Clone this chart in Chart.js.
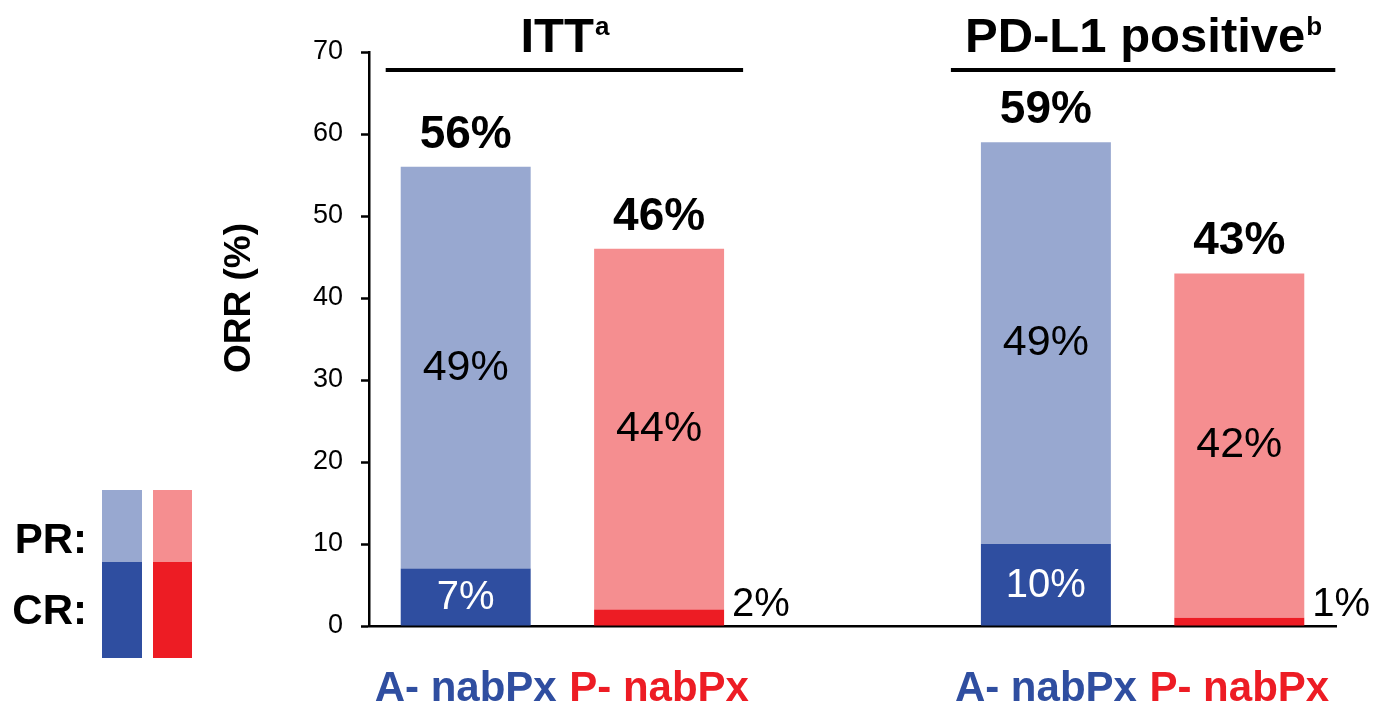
<!DOCTYPE html>
<html>
<head>
<meta charset="utf-8">
<script src="https://cdn.jsdelivr.net/npm/chart.js@4.4.1/dist/chart.umd.min.js"></script>
<style>
  html, body { margin: 0; padding: 0; background: #ffffff; }
  #wrap { width: 1373px; height: 706px; position: relative; }
</style>
</head>
<body>
<div id="wrap"><canvas id="c"></canvas></div>
<script>
// Arms on the x axis; the empty slot separates the two populations
const categories = ['A- nabPx', 'P- nabPx', '', 'A- nabPx', 'P- nabPx'];
// Complete response and partial response rates (%)
const crValues = [7, 2, null, 10, 1];
const prValues = [49, 44, null, 49, 42];
// Population headings spanning each pair of bars
const groupTitles = ['ITT', 'PD-L1 positive'];
const groupNotes = ['a', 'b'];
const groupIndices = [[0, 1], [3, 4]];
// Y axis ticks
const yTicks = [0, 10, 20, 30, 40, 50, 60, 70];

const FONT = '"Liberation Sans", Arial, Helvetica, sans-serif';
const BLUE_DARK = '#2f4ea0';
const BLUE_LIGHT = '#98a8d0';
const RED_DARK = '#ed1c24';
const RED_LIGHT = '#f58e90';
const armIsA = categories.map(c => c.startsWith('A'));

const crColors = armIsA.map(a => a ? BLUE_DARK : RED_DARK);
const prColors = armIsA.map(a => a ? BLUE_LIGHT : RED_LIGHT);
const labelColors = categories.map((c, i) => c === '' ? 'rgba(0,0,0,0)' : (armIsA[i] ? BLUE_DARK : RED_DARK));

// how far each heading rule reaches beyond its outer bar centres (px)
const rulePad = [[80, 84], [95, 96]];

const annotations = {
  id: 'annotations',
  afterDatasetsDraw(chart) {
    const ctx = chart.ctx;
    const x = chart.scales.x;
    const y = chart.scales.y;
    const crMeta = chart.getDatasetMeta(0);
    const prMeta = chart.getDatasetMeta(1);
    ctx.save();

    categories.forEach((c, i) => {
      if (crValues[i] == null) return;
      const crEl = crMeta.data[i];
      const prEl = prMeta.data[i];
      const cx = crEl.x;
      const half = crEl.width / 2;

      // total response above the bar
      const total = crValues[i] + prValues[i];
      ctx.fillStyle = '#000';
      ctx.font = 'bold 46px ' + FONT;
      ctx.textAlign = 'center';
      ctx.textBaseline = 'alphabetic';
      ctx.fillText(total + '%', cx, y.getPixelForValue(total) - 19);

      // partial response inside its segment
      ctx.font = '43px ' + FONT;
      ctx.textBaseline = 'middle';
      ctx.fillText(prValues[i] + '%', cx, (prEl.y + prEl.base) / 2);

      // complete response: inside dark segment when tall enough, else beside it
      ctx.font = '40px ' + FONT;
      if (crValues[i] >= 5) {
        ctx.fillStyle = '#fff';
        ctx.textAlign = 'center';
        ctx.fillText(crValues[i] + '%', cx, (crEl.y + crEl.base) / 2 + 1);
      } else {
        ctx.fillStyle = '#000';
        ctx.textAlign = 'left';
        ctx.textBaseline = 'alphabetic';
        ctx.fillText(crValues[i] + '%', cx + half + 8, y.getPixelForValue(0) - 10);
      }
    });

    // population headings with underline
    groupTitles.forEach((t, g) => {
      const [a, b] = groupIndices[g];
      const pa = x.getPixelForValue(a);
      const pb = x.getPixelForValue(b);
      const left = pa - rulePad[g][0];
      const right = pb + rulePad[g][1];
      const mid = (left + right) / 2;
      ctx.font = 'bold 49px ' + FONT;
      const w1 = ctx.measureText(t).width;
      ctx.font = 'bold 26px ' + FONT;
      const w2 = ctx.measureText(groupNotes[g]).width;
      const start = mid - (w1 + w2) / 2;
      ctx.fillStyle = '#000';
      ctx.textAlign = 'left';
      ctx.textBaseline = 'alphabetic';
      ctx.font = 'bold 49px ' + FONT;
      ctx.fillText(t, start, 52);
      ctx.font = 'bold 26px ' + FONT;
      ctx.fillText(groupNotes[g], start + w1 + 1, 35);
      ctx.strokeStyle = '#000';
      ctx.lineWidth = 4;
      ctx.beginPath();
      ctx.moveTo(left, 70);
      ctx.lineTo(right, 70);
      ctx.stroke();
    });

    // y axis title
    ctx.save();
    ctx.translate(240, 298);
    ctx.rotate(-Math.PI / 2);
    ctx.font = 'bold 37px ' + FONT;
    ctx.textAlign = 'center';
    ctx.textBaseline = 'middle';
    ctx.fillStyle = '#000';
    ctx.fillText('ORR (%)', 0, 0);
    ctx.restore();

    // response-type key
    ctx.fillStyle = BLUE_LIGHT; ctx.fillRect(102, 490, 40, 72);
    ctx.fillStyle = BLUE_DARK;  ctx.fillRect(102, 562, 40, 96);
    ctx.fillStyle = RED_LIGHT;  ctx.fillRect(153, 490, 39, 72);
    ctx.fillStyle = RED_DARK;   ctx.fillRect(153, 562, 39, 96);
    ctx.fillStyle = '#000';
    ctx.font = 'bold 42px ' + FONT;
    ctx.textAlign = 'right';
    ctx.textBaseline = 'alphabetic';
    ctx.fillText('PR:', 87, 553);
    ctx.fillText('CR:', 87, 624);

    ctx.restore();
  }
};

new Chart(document.getElementById('c'), {
  type: 'bar',
  data: {
    labels: categories,
    datasets: [
      { label: 'CR', data: crValues, backgroundColor: crColors, borderWidth: 0 },
      { label: 'PR', data: prValues, backgroundColor: prColors, borderWidth: 0 }
    ]
  },
  options: {
    responsive: true,
    maintainAspectRatio: false,
    animation: false,
    devicePixelRatio: 1,
    layout: { padding: { top: 52, right: 37, bottom: 0, left: 0 } },
    datasets: { bar: { categoryPercentage: 1.0, barPercentage: 0.672 } },
    plugins: { legend: { display: false }, tooltip: { enabled: false } },
    scales: {
      x: {
        stacked: true,
        grid: { display: false, drawTicks: false },
        border: { display: true, color: '#000', width: 2.5 },
        ticks: {
          color: labelColors,
          font: { family: FONT, size: 42, weight: 'bold' },
          padding: 38,
          maxRotation: 0,
          autoSkip: false
        },
        afterFit(s) { s.height = 80; }
      },
      y: {
        stacked: true,
        min: 0,
        max: 70,
        afterBuildTicks(s) { s.ticks = yTicks.map(v => ({ value: v })); },
        grid: { drawOnChartArea: false, drawTicks: true, tickLength: 8, tickColor: '#000', tickWidth: 2.5 },
        border: { display: true, color: '#000', width: 2.5 },
        ticks: {
          color: '#000',
          font: { family: FONT, size: 27 },
          padding: 18
        },
        afterFit(s) { s.width = 369; }
      }
    }
  },
  plugins: [annotations]
});
</script>
</body>
</html>
